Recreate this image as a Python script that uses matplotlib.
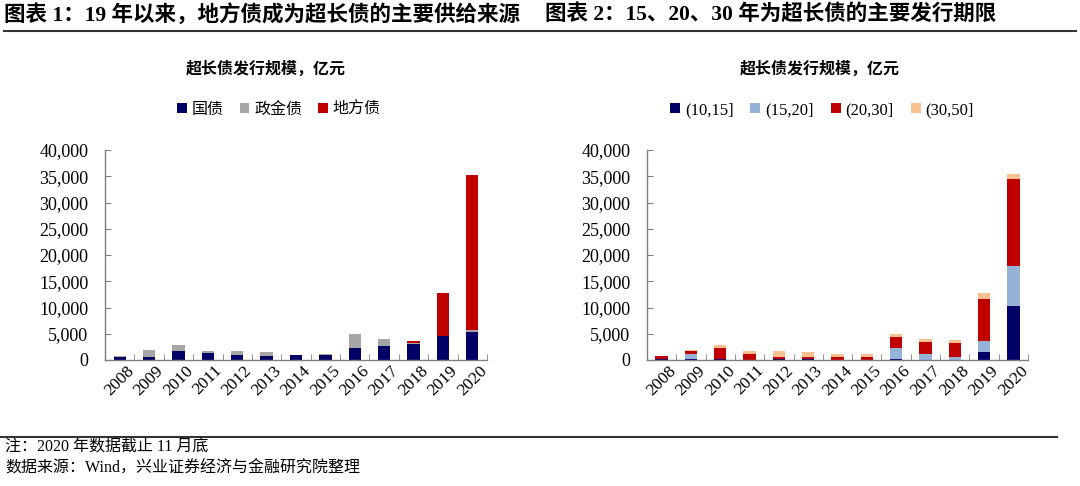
import numpy as np
import matplotlib
matplotlib.use("Agg")
import matplotlib.pyplot as plt
from matplotlib.patches import Patch

plt.rcParams['font.family'] = ['Liberation Serif', 'Noto Sans CJK SC', 'DejaVu Sans']

years = ['2008', '2009', '2010', '2011', '2012', '2013', '2014', '2015',
         '2016', '2017', '2018', '2019', '2020']

# Chart 1: by issuer (亿元)
guozhai = [500, 600, 1800, 1350, 1000, 800, 1000, 1000, 2300, 2700, 3100, 4500, 5400]
zhengjin = [300, 1300, 1000, 400, 700, 700, 0, 100, 2600, 1300, 100, 0, 400]
difang = [0, 0, 0, 0, 0, 0, 0, 0, 0, 0, 500, 8200, 29500]

# Chart 2: by maturity bucket (亿元)
m10_15 = [100, 250, 100, 0, 100, 100, 0, 0, 200, 0, 0, 1550, 10300]
m15_20 = [100, 950, 100, 50, 0, 0, 50, 50, 2150, 1200, 500, 2000, 7600]
m20_30 = [600, 470, 2000, 1100, 450, 550, 450, 450, 2000, 2300, 2650, 8050, 16500]
m30_50 = [0, 250, 600, 600, 1200, 900, 600, 650, 600, 500, 600, 1150, 1100]

header1 = '图表 1：19 年以来，地方债成为超长债的主要供给来源'
header2 = '图表 2：15、20、30 年为超长债的主要发行期限'
subtitle = '超长债发行规模，亿元'
legend1 = ['国债', '政金债', '地方债']
legend2 = ['(10,15]', '(15,20]', '(20,30]', '(30,50]']
note = '注：2020 年数据截止 11 月底'
source = '数据来源：Wind，兴业证券经济与金融研究院整理'

colors1 = ['#000066', '#A6A6A6', '#C00000']
colors2 = ['#000066', '#95B3D7', '#C00000', '#FAC090']

W, H = 1080, 486
fig = plt.figure(figsize=(W / 100, H / 100), dpi=100)


def fx(px):
    return px / W


def fy(py):
    return 1 - py / H


def draw(ax, series, colors, labels, legend_center_px, legend_fs):
    x = np.arange(len(years))
    bottom = np.zeros(len(years))
    for s, c in zip(series, colors):
        s = np.array(s, dtype=float)
        ax.bar(x, s, width=0.42, bottom=bottom, color=c, linewidth=0, zorder=2)
        bottom += s
    ax.set_xlim(-0.5, len(years) - 0.5)
    ax.set_ylim(0, 40000)
    ax.set_yticks(np.arange(0, 40001, 5000))
    ax.set_yticklabels([f'{v:,}' for v in range(0, 40001, 5000)], fontsize=13)
    ax.set_xticks(x)
    ax.set_xticklabels(years, rotation=45, fontsize=12.5, ha='center', va='top')
    ax.set_xticks(np.arange(-0.5, len(years), 1), minor=True)
    ax.tick_params(axis='x', which='major', length=0, pad=2)
    ax.tick_params(axis='x', which='minor', direction='in', length=4, color='#808080')
    ax.tick_params(axis='y', direction='in', length=4, color='#808080', pad=12)
    for side in ['top', 'right']:
        ax.spines[side].set_visible(False)
    for side in ['left', 'bottom']:
        ax.spines[side].set_color('#808080')
        ax.spines[side].set_linewidth(1.0)
    handles = [Patch(facecolor=c, edgecolor='none') for c in colors]
    fig.legend(handles, labels, loc='center', ncol=len(labels),
               bbox_to_anchor=(fx(legend_center_px), fy(110)),
               frameon=False, fontsize=legend_fs, handlelength=0.6, handleheight=0.6,
               handletextpad=0.3, columnspacing=1.0)


ax1 = fig.add_axes([fx(105), fy(360), fx(487) - fx(105), fy(150) - fy(360)])
draw(ax1, [guozhai, zhengjin, difang], colors1, legend1, 279, 11.5)

ax2 = fig.add_axes([fx(647), fy(360), fx(1028) - fx(647), fy(150) - fy(360)])
draw(ax2, [m10_15, m15_20, m20_30, m30_50], colors2, legend2, 822, 12)

# headers
fig.text(fx(4), fy(15), header1, fontsize=15.5, fontweight='bold', va='center', ha='left')
fig.text(fx(545), fy(15), header2, fontsize=15.5, fontweight='bold', va='center', ha='left')
fig.add_artist(plt.Line2D([fx(4), fx(1076)], [fy(31), fy(31)], color='#333333', lw=1.5))

fig.text(fx(266), fy(70), subtitle, fontsize=11.5, fontweight='bold', va='center', ha='center')
fig.text(fx(820), fy(70), subtitle, fontsize=11.5, fontweight='bold', va='center', ha='center')

fig.add_artist(plt.Line2D([fx(0), fx(1057)], [fy(437), fy(437)], color='#333333', lw=1.5))
fig.text(fx(5), fy(448), note, fontsize=11.5, va='center', ha='left')
fig.text(fx(5), fy(469), source, fontsize=11.5, va='center', ha='left')

fig.savefig('out.png', dpi=100, facecolor='white')
